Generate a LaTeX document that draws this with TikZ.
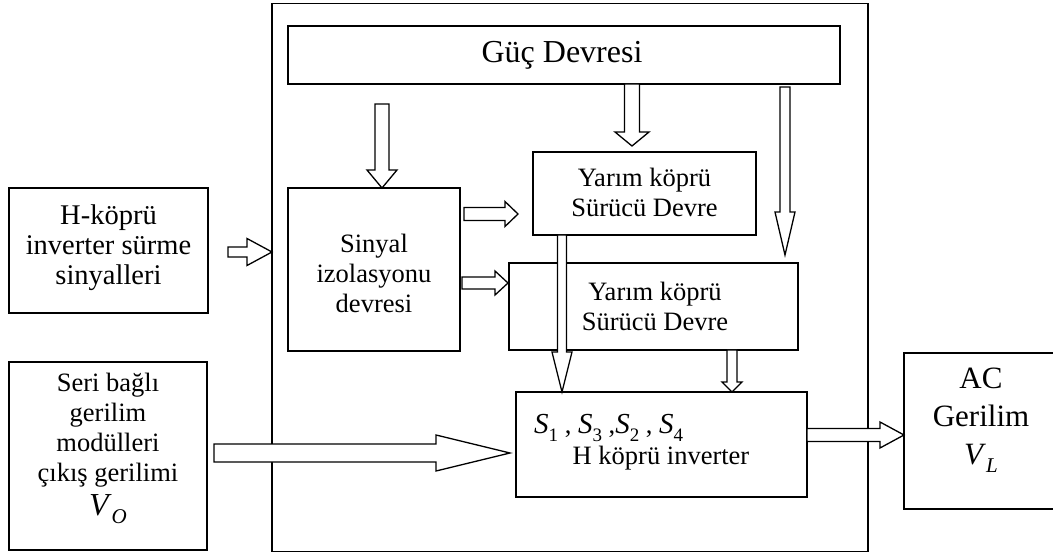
\documentclass[tikz,border=0pt]{standalone}
\usepackage{fontspec}
\setmainfont{Liberation Serif}
\newcommand\fa{\fontsize{26.5}{30}\selectfont}
\newcommand\fsur{\fontsize{28.5}{30}\selectfont}
\newcommand\fb{\fontsize{32}{36}\selectfont}
\newcommand\fc{\fontsize{31}{38}\selectfont}
\newcommand\sub[2]{{\fontsize{29}{30}\selectfont\textit{#1}}\raisebox{-0.28em}{\fontsize{19}{20}\selectfont #2}}
\newcommand\subi[2]{\textit{#1}\raisebox{-0.25em}{\fontsize{21}{22}\selectfont\textit{#2}}}
% right-pointing block arrow: x1, xhead, xtip, ycentre, shaft half, head half
\newcommand\barrowR[6]{\draw[arr] (#1,#4-#5) -- (#2,#4-#5) -- (#2,#4-#6) -- (#3,#4) -- (#2,#4+#6) -- (#2,#4+#5) -- (#1,#4+#5) -- cycle;}
% down-pointing block arrow: xcentre, y1, yhead, ytip, shaft half, head half
\newcommand\barrowD[6]{\draw[arr] (#1-#5,#2) -- (#1-#5,#3) -- (#1-#6,#3) -- (#1,#4) -- (#1+#6,#3) -- (#1+#5,#3) -- (#1+#5,#2) -- cycle;}
\begin{document}
\begin{tikzpicture}[x=1pt,y=-1pt,
  box/.style={draw,line width=1.3pt,inner sep=0pt,fill=white},
  outerbox/.style={draw,line width=1.7pt,inner sep=0pt},
  arr/.style={draw,line width=1.3pt,fill=white,line join=miter},
  txt/.style={align=center,inner sep=0pt,font=\fa}]
\useasboundingbox (0,0) rectangle (1053,553);
\fill[white] (0,0) rectangle (1053,553);
% boxes
\node[outerbox, minimum width=596pt, minimum height=548pt] (outer) at (570,277.5) {};
\node[box, minimum width=552pt, minimum height=58pt] (guc) at (564,55) {};
\node[box, minimum width=172pt, minimum height=163pt] (sin) at (374,269.5) {};
\node[box, minimum width=223pt, minimum height=83pt] (y1) at (644.5,193.5) {};
\node[box, minimum width=289pt, minimum height=87pt] (y2) at (653.5,306.5) {};
\node[box, minimum width=291pt, minimum height=105pt] (hk) at (661.5,444.5) {};
\node[box, minimum width=199pt, minimum height=125pt] (sur) at (108.5,250.5) {};
\node[box, minimum width=198pt, minimum height=188pt] (seri) at (108,456) {};
\begin{scope}
\clip (0,0) rectangle (1053,553);
\node[box, minimum width=166pt, minimum height=156pt] (ac) at (987,431) {};
\end{scope}
% texts
\node[txt,font=\fb] (guc-t) at (562,55) {Güç Devresi};
\node[txt] (sin-t) at (374,273) {Sinyal\\izolasyonu\\devresi};
\node[txt] (y1-t) at (644.5,192) {Yarım köprü\\Sürücü Devre};
\node[txt] (y2-t) at (655,306) {Yarım köprü\\Sürücü Devre};
\node[txt,font=\fsur] (sur-t) at (108.5,248) {H-köprü\\inverter sürme\\sinyalleri};
\node[txt] (seri-t) at (108,448) {Seri bağlı\\gerilim\\modülleri\\çıkış gerilimi\\[4pt]{\fontsize{32}{30}\selectfont\subi{V}{O}}};
\node[txt,anchor=west] (s-t) at (534,428) {\sub{S}{1} , \sub{S}{3} ,\sub{S}{2} , \sub{S}{4}};
\node[txt] (h-t) at (661,458) {H köprü inverter};
\node[txt,font=\fc] (ac-t) at (981,420) {AC\\Gerilim\\\subi{V}{L}};
% block arrows
\barrowR{228}{247}{272}{252}{5}{13.5}
\barrowR{464}{505}{518}{214}{6.5}{12.5}
\barrowR{462}{495}{508}{283}{6}{12}
\barrowR{214}{436}{510}{453}{9}{18}
\barrowR{807}{880}{904}{435}{6.5}{13}
\barrowD{382}{104}{170}{188}{7}{15}
\barrowD{632}{84}{132}{146}{7.5}{17}
\barrowD{785}{87}{212}{255}{5}{10}
\barrowD{562}{235}{352}{392}{4.5}{10}
\barrowD{732}{350}{382}{392}{5}{10}
\end{tikzpicture}
\end{document}
